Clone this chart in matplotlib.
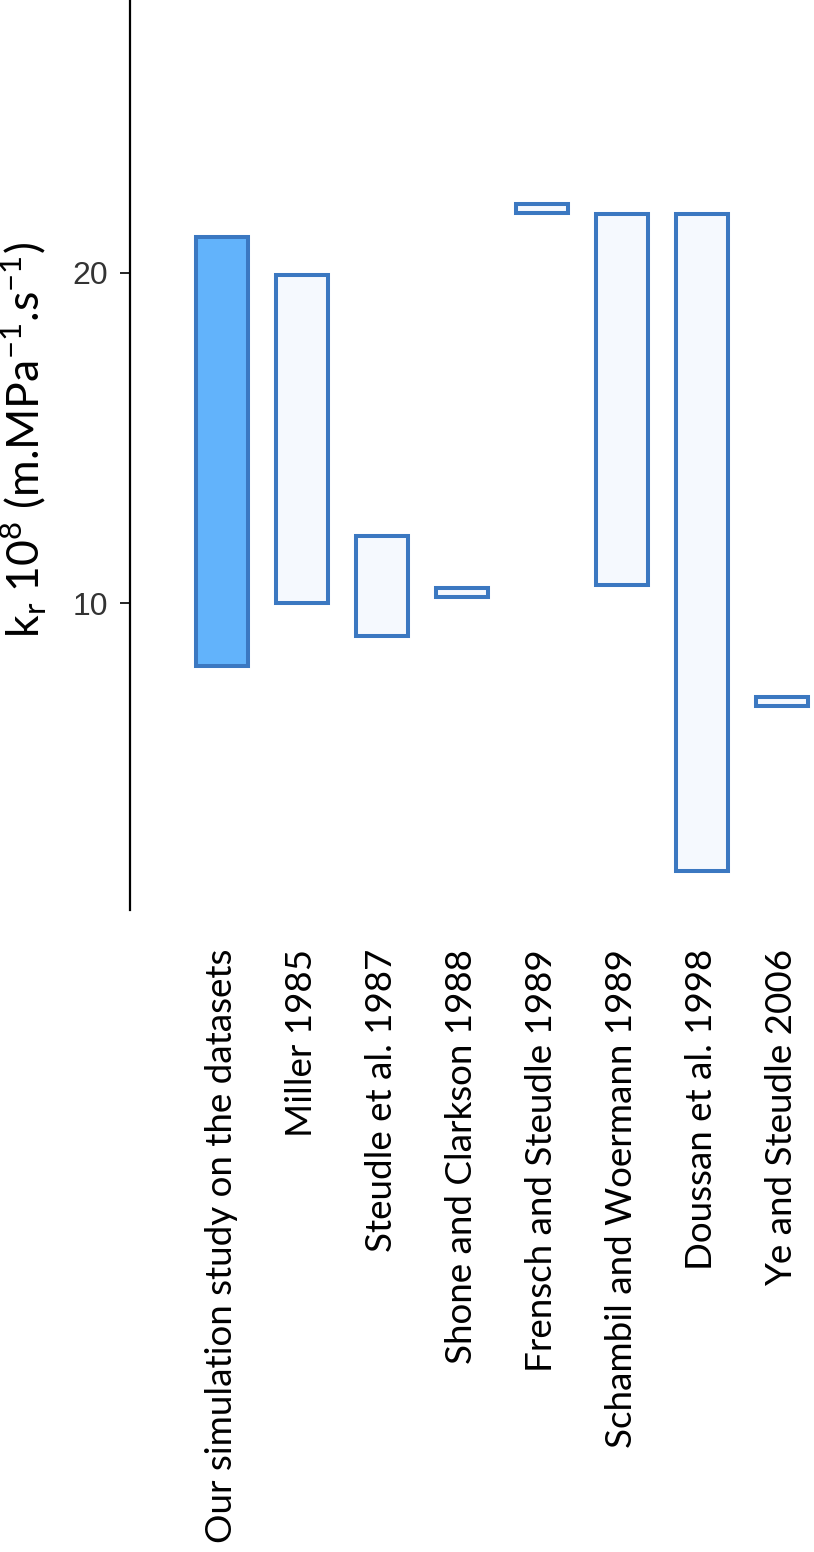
import matplotlib
matplotlib.use("Agg")
import matplotlib.pyplot as plt
import numpy as np

# ranges of root radial conductivity kr (x 1e-8 m.MPa-1.s-1)
studies = [
    "Our simulation study on the datasets",
    "Miller 1985",
    "Steudle et al. 1987",
    "Shone and Clarkson 1988",
    "Frensch and Steudle 1989",
    "Schambil and Woermann 1989",
    "Doussan et al. 1998",
    "Ye and Steudle 2006",
]
kr_low = [8.1, 10.0, 9.0, 10.18, 21.82, 10.55, 1.88, 6.88]
kr_high = [21.1, 19.95, 12.03, 10.45, 22.1, 21.8, 21.8, 7.15]
y_ticks = [10, 20]

plt.rcParams["font.family"] = ["Lato", "DejaVu Sans"]

fig = plt.figure(figsize=(8.14, 15.52), dpi=100)
ax = fig.add_axes([130 / 814, 1 - 910 / 1552, 1 - 130 / 814, 910 / 1552])

x = np.arange(len(studies))
low = np.array(kr_low)
high = np.array(kr_high)
face = ["#62b3fb"] + ["#f5f9fe"] * (len(studies) - 1)
ax.bar(x, high - low, bottom=low, width=0.64, color=face,
       edgecolor="#3b78c1", linewidth=2.9)

ax.set_xlim(-1.15, 7.4)
ax.set_ylim(0.7, 28.27)

for side in ["top", "right", "bottom"]:
    ax.spines[side].set_visible(False)
ax.spines["left"].set_linewidth(1.6)

ax.set_yticks(y_ticks)
ax.set_yticklabels([str(t) for t in y_ticks], family="Liberation Sans",
                   fontsize=23, color="#333333")
ax.tick_params(axis="y", direction="out", length=7, width=1.2, pad=9)

ax.set_xticks(x)
ax.set_xticklabels(studies, rotation=90, ha="center", va="top", fontsize=26.5)
ax.tick_params(axis="x", length=0, pad=28)

ax.set_ylabel(r"k$_\mathregular{r}$ 10$^\mathregular{8}$ (m.MPa$^\mathregular{-1}$.s$^\mathregular{-1}$)",
              fontsize=32, va="center")
ax.yaxis.set_label_coords(-0.155, 0.516)

fig.savefig("out.png", dpi=100)
